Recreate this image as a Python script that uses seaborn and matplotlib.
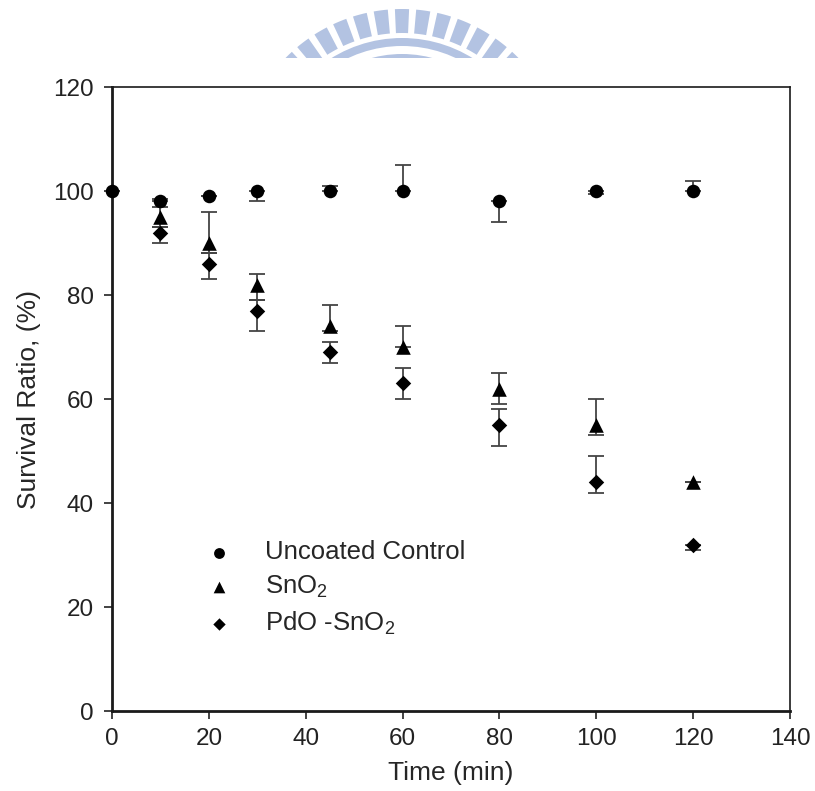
import numpy as np
import pandas as pd
import matplotlib
matplotlib.use('Agg')
import matplotlib.pyplot as plt
import matplotlib.patches as mpatches
import matplotlib.transforms as mtransforms
import seaborn as sns

# data
time_ctrl = [0, 10, 20, 30, 45, 60, 80, 100, 120]
control = [100, 98, 99, 100, 100, 100, 98, 100, 100]
control_lo = [0, 0, 0, 2, 0, 0, 4, 0.5, 0]
control_hi = [0, 0.5, 0, 0, 1, 5, 0, 0, 2]

time_coat = [10, 20, 30, 45, 60, 80, 100, 120]
sno2 = [95, 90, 82, 74, 70, 62, 55, 44]
sno2_lo = [2, 2, 3, 1, 0, 3, 2, 0]
sno2_hi = [2, 6, 2, 4, 4, 3, 5, 0]

pdo = [92, 86, 77, 69, 63, 55, 44, 32]
pdo_lo = [2, 3, 4, 2, 3, 4, 2, 1]
pdo_hi = [1, 2, 2, 2, 3, 3, 5, 0]

series_names = ['Uncoated Control', 'SnO$_\\mathregular{2}$', 'PdO -SnO$_\\mathregular{2}$']

sns.set_style('white')
plt.rcParams['font.family'] = ['Liberation Sans', 'DejaVu Sans']
plt.rcParams['mathtext.fontset'] = 'custom'
plt.rcParams['mathtext.rm'] = 'Liberation Sans'
plt.rcParams['mathtext.default'] = 'regular'

fig = plt.figure(figsize=(8.15, 7.91), dpi=100)
ax = fig.add_axes([0.1374, 0.1011, 0.8319, 0.7889])

## watermark logo peeking at the top
wm_color = '#b3c3e2'
W, H = 815, 791
cx, cy = 402, 172  # pixel centre (from top)
pix = mtransforms.Affine2D().scale(1.0 / W, 1.0 / H) + fig.transFigure
clip = mpatches.Rectangle((0, (H - 58) / H), 1, 58 / H, transform=fig.transFigure,
                          facecolor='none', edgecolor='none')
fig.patches.append(clip)
for ang in np.arange(-60, 61, 7.5):
    w = mpatches.Wedge((cx, H - cy), 163, 90 - ang - 2.5, 90 - ang + 2.5, width=24,
                       transform=pix, facecolor=wm_color, edgecolor='none')
    w.set_clip_path(clip)
    fig.patches.append(w)
for r, wd in [(134, 8), (118, 14)]:
    ring = mpatches.Wedge((cx, H - cy), r, 15, 165, width=wd, transform=pix,
                          facecolor=wm_color, edgecolor='none')
    ring.set_clip_path(clip)
    fig.patches.append(ring)

# error bars first (under markers)
for t, vals, lo, hi in [(time_ctrl, control, control_lo, control_hi),
                        (time_coat, sno2, sno2_lo, sno2_hi),
                        (time_coat, pdo, pdo_lo, pdo_hi)]:
    ax.errorbar(t, vals, yerr=[lo, hi], fmt='none', ecolor='#444444',
                elinewidth=1.3, capsize=5.5, capthick=1.3, zorder=2)

sns.scatterplot(x=time_ctrl, y=control, marker='o', s=95, color='black', linewidth=0,
                label=series_names[0], ax=ax, zorder=3, clip_on=False)
sns.scatterplot(x=time_coat, y=sno2, marker='^', s=110, color='black', linewidth=0,
                label=series_names[1], ax=ax, zorder=3)
sns.scatterplot(x=time_coat, y=pdo, marker='D', s=62, color='black', linewidth=0,
                label=series_names[2], ax=ax, zorder=3)

ax.set_xlim(0, 140)
ax.set_ylim(0, 120)
ax.set_xticks(range(0, 141, 20))
ax.set_yticks(range(0, 121, 20))
ax.set_xlabel('Time (min)', fontsize=19, labelpad=8)
ax.set_ylabel('Survival Ratio, (%)', fontsize=19, labelpad=9)
ax.tick_params(axis='both', labelsize=17.5, direction='out', length=6, width=1.2,
               left=True, bottom=True, colors='#222222', labelcolor='#222222')
ax.tick_params(axis='y', pad=7)
ax.tick_params(axis='x', pad=6)

for side in ['left', 'bottom']:
    ax.spines[side].set_linewidth(2.0)
for side in ['top', 'right']:
    ax.spines[side].set_linewidth(1.2)
for sp in ax.spines.values():
    sp.set_color('#1a1a1a')
    sp.set_visible(True)

handles, labels = ax.get_legend_handles_labels()
ax.legend(handles, labels, loc='upper left', bbox_to_anchor=(0.114, 0.29), frameon=False,
          fontsize=18.5, markerscale=0.8, handletextpad=1.05, labelspacing=0.38,
          handlelength=1.5, borderaxespad=0)

fig.savefig('out.png', dpi=100)
